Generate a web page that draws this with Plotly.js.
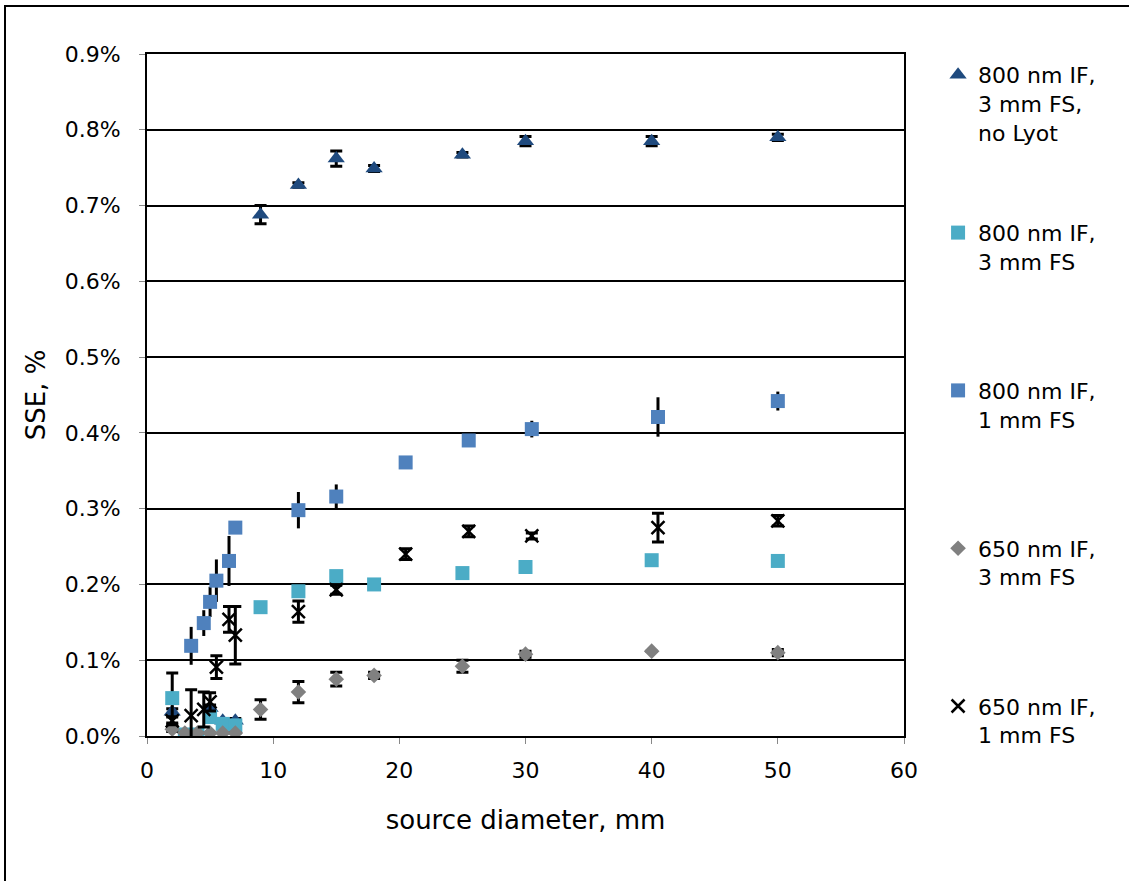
<!DOCTYPE html>
<html>
<head>
<meta charset="utf-8">
<script src="https://cdn.plot.ly/plotly-3.0.1.min.js"></script>
<style>
  html, body { margin: 0; padding: 0; background: #fff; }
  #wrap { position: relative; width: 1129px; height: 881px; }
  #chart { position: absolute; left: 0; top: 0; width: 1129px; height: 881px; }
  #frame { position: absolute; left: 4px; top: 5px; width: 1140px; height: 900px;
           border-left: 2px solid #000; border-top: 2px solid #000; pointer-events: none; }
</style>
</head>
<body>
<div id="wrap"><div id="chart"></div><div id="frame"></div></div>
<script>
// Series names
const seriesNames = [
  "800 nm IF,<br>3 mm FS,<br>no Lyot",
  "800 nm IF,<br>3 mm FS<br>&nbsp;",
  "800 nm IF,<br>1 mm FS<br>&nbsp;",
  "650 nm IF,<br>3 mm FS<br>&nbsp;",
  "650 nm IF,<br>1 mm FS<br>&nbsp;"
];

// 800 nm IF, 3 mm FS, no Lyot (triangles)
const triX   = [2, 5, 6, 7, 9, 12, 15, 18, 25, 30, 40, 50];
const triY   = [0.032, 0.037, 0.020, 0.020, 0.688, 0.727, 0.762, 0.749, 0.767, 0.785, 0.785, 0.790];
const triErr = [0.004, 0.004, 0.003, 0.003, 0.012, 0.003, 0.010, 0.004, 0.003, 0.006, 0.006, 0.004];

// 800 nm IF, 3 mm FS (light blue squares)
const cyanX   = [2, 3, 4, 5, 6, 7, 9, 12, 15, 18, 25, 30, 40, 50];
const cyanY   = [0.050, 0.002, 0.002, 0.025, 0.016, 0.014, 0.170, 0.191, 0.211, 0.200, 0.215, 0.223, 0.232, 0.231];
const cyanErr = [0.033, 0, 0, 0, 0, 0, 0.005, 0, 0, 0, 0, 0, 0, 0];

// 800 nm IF, 1 mm FS (blue squares)
const blueX   = [3.5, 4.5, 5, 5.5, 6.5, 7, 12, 15, 20.5, 25.5, 30.5, 40.5, 50];
const blueY   = [0.119, 0.149, 0.177, 0.205, 0.231, 0.275, 0.298, 0.316, 0.361, 0.390, 0.405, 0.421, 0.442];
const blueErr = [0.025, 0.017, 0.020, 0.028, 0.033, 0.006, 0.024, 0.016, 0.004, 0.003, 0.011, 0.026, 0.0125];

// 650 nm IF, 3 mm FS (gray diamonds)
const diaX   = [2, 3, 4, 5, 6, 7, 9, 12, 15, 18, 25, 30, 40, 50];
const diaY   = [0.009, 0.004, 0.004, 0.004, 0.004, 0.004, 0.035, 0.058, 0.075, 0.080, 0.092, 0.108, 0.112, 0.110];
const diaErr = [0.003, 0, 0, 0, 0, 0, 0.013, 0.014, 0.009, 0.004, 0.008, 0.004, 0, 0.004];

// 650 nm IF, 1 mm FS (black stars)
const astX   = [2, 3.5, 4.5, 5, 5.5, 6.5, 7, 12, 15, 20.5, 25.5, 30.5, 40.5, 50];
const astY   = [0.020, 0.027, 0.035, 0.045, 0.091, 0.154, 0.133, 0.164, 0.193, 0.240, 0.270, 0.264, 0.275, 0.284];
const astErr = [0.005, 0.034, 0.023, 0.012, 0.015, 0.017, 0.038, 0.014, 0.006, 0.007, 0.007, 0.004, 0.019, 0.007];

const yTicks = [0, 0.1, 0.2, 0.3, 0.4, 0.5, 0.6, 0.7, 0.8, 0.9];
const yTickText = yTicks.map(v => v.toFixed(1) + "%");
const xTicks = [0, 10, 20, 30, 40, 50, 60];

const FONT = "DejaVu Sans";

function err(arr, w) {
  return { type: "data", array: arr, visible: true, color: "#000", thickness: 3, width: w };
}

const traces = [
  { x: triX, y: triY, name: seriesNames[0], legendgroup: "g1", type: "scatter", mode: "markers",
    marker: { symbol: "triangle-up", size: 15, color: "#1F4A7E" }, error_y: err(triErr, 6) },
  { x: cyanX, y: cyanY, name: seriesNames[1], legendgroup: "g2", type: "scatter", mode: "markers",
    marker: { symbol: "square", size: 14, color: "#4BACC6" }, error_y: err(cyanErr, 6) },
  { x: blueX, y: blueY, name: seriesNames[2], legendgroup: "g3", type: "scatter", mode: "markers",
    marker: { symbol: "square", size: 14, color: "#4F81BD" }, error_y: err(blueErr, 0) },
  { x: diaX, y: diaY, name: seriesNames[3], legendgroup: "g4", type: "scatter", mode: "markers",
    marker: { symbol: "diamond", size: 12, color: "#808080" }, error_y: err(diaErr, 6) },
  { x: astX, y: astY, name: seriesNames[4], legendgroup: "g5", type: "scatter", mode: "markers",
    marker: { symbol: "x-thin-open", size: 13, color: "#000", line: { width: 2.5, color: "#000" } },
    error_y: err(astErr, 6) }
];

const layout = {
  width: 1129, height: 881,
  margin: { l: 147, r: 225, t: 54, b: 145 },
  paper_bgcolor: "#fff", plot_bgcolor: "#fff",
  font: { family: FONT, size: 22, color: "#000" },
  showlegend: true,
  legend: {
    x: 1.045, xanchor: "left", y: 1.0, yanchor: "top",
    traceorder: "grouped", tracegroupgap: 69, valign: "top",
    font: { family: FONT, size: 22, color: "#000" },
    itemwidth: 30, maxheight: 860
  },
  xaxis: {
    range: [0, 60], tickvals: xTicks, ticks: "outside", ticklen: 6, tickwidth: 1, tickcolor: "#888",
    showline: true, linecolor: "#000", linewidth: 2, mirror: true, showgrid: false, zeroline: false,
    tickfont: { family: FONT, size: 22 }, ticklabelstandoff: 8,
    title: { text: "source diameter, mm", font: { family: FONT, size: 26 }, standoff: 28 }
  },
  yaxis: {
    range: [0, 0.9], tickvals: yTicks, ticktext: yTickText, ticks: "outside", ticklen: 6, tickwidth: 1,
    tickcolor: "#888", showline: true, linecolor: "#000", linewidth: 2, mirror: true,
    showgrid: true, gridcolor: "#000", gridwidth: 2, zeroline: false,
    tickfont: { family: FONT, size: 22 }, ticklabelstandoff: 14,
    title: { text: "SSE, %", font: { family: FONT, size: 26 }, standoff: 12 }
  }
};

Plotly.newPlot("chart", traces, layout, { displayModeBar: false, staticPlot: true });
</script>
</body>
</html>
